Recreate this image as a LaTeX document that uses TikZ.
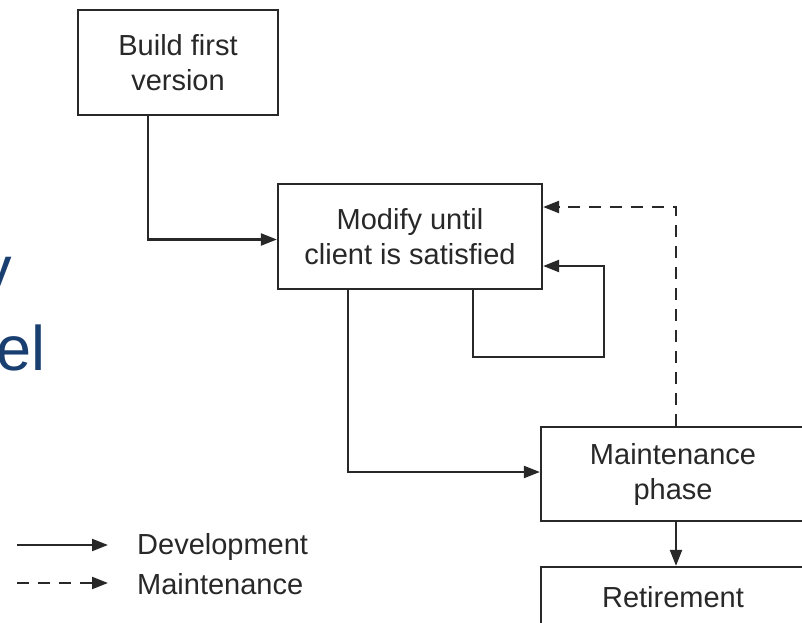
\documentclass[tikz,border=0pt]{standalone}
\usepackage{fontspec}
\setmainfont{Liberation Sans}
\usepackage{tikz}
\usetikzlibrary{positioning}
\usetikzlibrary{calc}
\usetikzlibrary{arrows.meta}
\definecolor{titleblue}{RGB}{25,62,112}
\definecolor{ink}{RGB}{40,40,40}

\begin{document}
\begin{tikzpicture}[x=1pt,y=1pt,align=center,
	phase/.style={draw=ink,line width=2.2pt,fill=white,inner sep=0pt,font=\fontsize{29}{35}\selectfont,text=ink},
	dev/.style={draw=ink,line width=2.2pt,-{Triangle[length=16pt,width=12pt]}},
	mnt/.style={dev,dash pattern=on 12pt off 9pt}]
		\useasboundingbox (0,0) rectangle (802,622);
		\clip (0,0) rectangle (802,622);
		% Cut-off slide title
		\node [anchor=base east,inner sep=0pt,text=titleblue,font=\fontsize{63}{70}\selectfont] (titleA) at (12,332) {y};
		\node [anchor=base east,inner sep=0pt,text=titleblue,font=\fontsize{63}{70}\selectfont] (titleB) at (46,252) {el};
		% Boxes
		\node [phase,minimum width=200pt,minimum height=105pt] at (178,559.5) (build) {Build first\\version};
		\node [phase,minimum width=264pt,minimum height=105pt] at (410,385.5) (modify) {Modify until\\client is satisfied};
		\node [phase,minimum width=264pt,minimum height=94pt] at (673,148) (maint) {Maintenance\\phase};
		\node [phase,minimum width=264pt,minimum height=70pt,text depth=11pt] at (673,20) (retire) {Retirement};
		% Connections
		\coordinate (loopR) at (604,265);
		\draw [dev] ([xshift=-30pt]build.south) |- ([yshift=-3pt]modify.west);
		\draw [dev] ([xshift=63pt]modify.south) |- (loopR) |- ([yshift=-29.5pt]modify.east);
		\draw [dev] ([xshift=-62pt]modify.south) |- ([yshift=2pt]maint.west);
		\draw [dev] ([xshift=3pt]maint.south) -- ([xshift=3pt]retire.north);
		\draw [mnt] ([xshift=3pt]maint.north) |- ([yshift=29.5pt]modify.east);
		% Legend
		\node [anchor=west,inner sep=0pt,font=\fontsize{29}{35}\selectfont,text=ink] at (137,75) (devlbl) {Development};
		\node [anchor=west,inner sep=0pt,font=\fontsize{29}{35}\selectfont,text=ink] at (137,38) (mntlbl) {Maintenance};
		\coordinate (devstart) at (17,77);
		\coordinate (mntstart) at (17,39);
		\draw [dev] (devstart) -- ($(devlbl.west)+(-29,2)$);
		\draw [mnt] (mntstart) -- ($(mntlbl.west)+(-29,1)$);
\end{tikzpicture}
\end{document}
